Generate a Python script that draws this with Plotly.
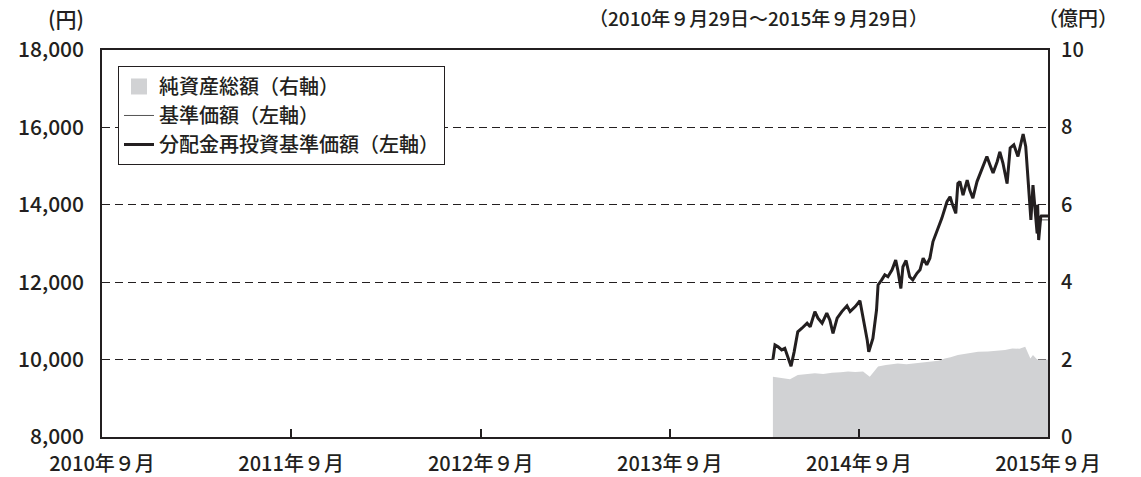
import plotly.graph_objects as go

# ---- data ----
price_dates = [
    "2014-04-16", "2014-04-20", "2014-04-26", "2014-05-03", "2014-05-09", "2014-05-15",
    "2014-05-21", "2014-05-27", "2014-06-03", "2014-06-11", "2014-06-21", "2014-06-27",
    "2014-07-06", "2014-07-12", "2014-07-20", "2014-07-29", "2014-08-04", "2014-08-10",
    "2014-08-18", "2014-08-27", "2014-09-06", "2014-09-12", "2014-09-22", "2014-10-01",
    "2014-10-07", "2014-10-15", "2014-10-18", "2014-10-26", "2014-11-02", "2014-11-05",
    "2014-11-12", "2014-11-18", "2014-11-24", "2014-12-02", "2014-12-09", "2014-12-13",
    "2014-12-19", "2014-12-23", "2014-12-29", "2015-01-05", "2015-01-11", "2015-01-19",
    "2015-01-25", "2015-01-31", "2015-02-07", "2015-02-13", "2015-02-19", "2015-02-27",
    "2015-03-04", "2015-03-08", "2015-03-18", "2015-03-24", "2015-03-28", "2015-04-04",
    "2015-04-08", "2015-04-12", "2015-04-18", "2015-04-26", "2015-05-01", "2015-05-07",
    "2015-05-15", "2015-05-24", "2015-06-03", "2015-06-09", "2015-06-15", "2015-06-23",
    "2015-06-28", "2015-07-04", "2015-07-12", "2015-07-18", "2015-07-25", "2015-08-02",
    "2015-08-08", "2015-08-12", "2015-08-17", "2015-08-21", "2015-08-27", "2015-08-31",
    "2015-09-04", "2015-09-08", "2015-09-09", "2015-09-11", "2015-09-15", "2015-09-16",
    "2015-09-29",
]
nav_reinvest = [
    10000, 10380, 10330, 10250, 10290, 10070,
    9830, 10200, 10720, 10810, 10940, 10850,
    11240, 11070, 10940, 11200, 11020, 10680,
    11070, 11240, 11390, 11240, 11370, 11520,
    11110, 10510, 10200, 10550, 11280, 11930,
    12060, 12190, 12140, 12320, 12570, 12320,
    11840, 12400, 12560, 12140, 12060, 12230,
    12320, 12620, 12450, 12620, 13050, 13310,
    13520, 13650, 14080, 14210, 14030, 13780,
    14550, 14600, 14250, 14640, 14380, 14170,
    14600, 14900, 15250, 15030, 14820, 15120,
    15370, 15080, 14550, 15470, 15550, 15250,
    15600, 15830, 15510, 14730, 13610, 14510,
    13870, 13260, 14000, 13090, 13690, 13710,
    13710,
]
nav_base = [
    10000, 10380, 10330, 10250, 10290, 10070,
    9830, 10200, 10720, 10810, 10940, 10850,
    11240, 11070, 10940, 11200, 11020, 10680,
    11070, 11240, 11390, 11240, 11370, 11520,
    11110, 10510, 10200, 10550, 11280, 11930,
    12060, 12190, 12140, 12320, 12570, 12320,
    11840, 12400, 12560, 12140, 12060, 12230,
    12320, 12620, 12450, 12620, 13050, 13310,
    13520, 13650, 14080, 14210, 14030, 13780,
    14550, 14600, 14250, 14640, 14380, 14170,
    14600, 14900, 15250, 15030, 14820, 15120,
    15370, 15080, 14550, 15470, 15550, 15250,
    15600, 15830, 15510, 14730, 13610, 14510,
    13870, 13260, 14000, 13090, 13600, 13610,
    13610,
]

asset_dates = [
    "2014-04-16", "2014-04-25", "2014-05-09", "2014-05-19", "2014-06-03", "2014-06-20",
    "2014-07-06", "2014-07-22", "2014-08-08", "2014-08-25", "2014-09-08", "2014-09-22",
    "2014-10-07", "2014-10-20", "2014-11-05", "2014-11-20", "2014-12-13", "2014-12-30",
    "2015-01-15", "2015-02-01", "2015-02-17", "2015-03-01", "2015-03-14", "2015-03-25",
    "2015-04-08", "2015-04-25", "2015-05-17", "2015-06-05", "2015-06-25", "2015-07-08",
    "2015-07-22", "2015-08-05", "2015-08-16", "2015-08-26", "2015-08-31", "2015-09-08",
    "2015-09-29",
]
net_assets = [
    1.56, 1.54, 1.52, 1.49, 1.60, 1.62,
    1.65, 1.63, 1.66, 1.67, 1.69, 1.68,
    1.69, 1.56, 1.82, 1.86, 1.90, 1.88,
    1.90, 1.93, 1.95, 1.97, 2.03, 2.06,
    2.12, 2.15, 2.20, 2.21, 2.23, 2.25,
    2.29, 2.28, 2.33, 2.03, 2.12, 2.00,
    2.00,
]

x_tick_vals = ["2010-09-29", "2011-09-29", "2012-09-29", "2013-09-29", "2014-09-29", "2015-09-29"]
x_tick_text = ["2010年９月", "2011年９月", "2012年９月", "2013年９月", "2014年９月", "2015年９月"]
y_tick_vals = [8000, 10000, 12000, 14000, 16000, 18000]
y_tick_text = ["8,000", "10,000", "12,000", "14,000", "16,000", "18,000"]
y2_tick_vals = [0, 2, 4, 6, 8, 10]
y2_tick_text = ["0", "2", "4", "6", "8", "10"]

FONT = "Noto Sans CJK JP"
GRAY = "#d1d2d4"
BLACK = "#231f20"

fig = go.Figure()

fig.add_trace(go.Scatter(
    x=asset_dates, y=net_assets, yaxis="y2", mode="lines",
    line=dict(width=0, color=GRAY), fill="tozeroy", fillcolor=GRAY,
    showlegend=False, hoverinfo="skip",
))
# legend swatch for the area
fig.add_trace(go.Scatter(
    x=[None], y=[None], yaxis="y2", mode="markers", name="純資産総額（右軸）",
    marker=dict(symbol="square", size=16, color=GRAY),
))
fig.add_trace(go.Scatter(
    x=price_dates, y=nav_base, mode="lines", name="基準価額（左軸）",
    line=dict(width=1, color="#555555"),
))
fig.add_trace(go.Scatter(
    x=price_dates, y=nav_reinvest, mode="lines", name="分配金再投資基準価額（左軸）",
    line=dict(width=3, color=BLACK),
))

fig.update_layout(
    width=1141, height=477,
    margin=dict(l=102, r=93, t=50, b=40, autoexpand=False),
    paper_bgcolor="white", plot_bgcolor="white",
    font=dict(family=FONT, size=20, color=BLACK, weight=500),
    xaxis=dict(
        type="date", range=["2010-09-29", "2015-09-29"],
        tickvals=x_tick_vals, ticktext=x_tick_text, automargin=False,
        ticks="inside", ticklen=8, tickwidth=1.5, tickcolor=BLACK,
        showgrid=False, showline=True, mirror=True, linecolor=BLACK, linewidth=1.5,
        tickfont=dict(size=20), ticklabelstandoff=8, zeroline=False,
    ),
    yaxis=dict(
        range=[8000, 18000], tickvals=y_tick_vals, ticktext=y_tick_text,
        showgrid=True, gridcolor=BLACK, griddash="8px,5px", gridwidth=1,
        showline=True, mirror=True, linecolor=BLACK, linewidth=1.5, automargin=False,
        ticks="", tickfont=dict(size=21), ticklabelstandoff=12, zeroline=False,
    ),
    yaxis2=dict(
        range=[0, 10], tickvals=y2_tick_vals, ticktext=y2_tick_text,
        overlaying="y", side="right", showgrid=False, zeroline=False, automargin=False,
        ticks="", tickfont=dict(size=20), ticklabelstandoff=12,
    ),
    legend=dict(
        x=0.0169, y=0.9587, xanchor="left", yanchor="top",
        bordercolor=BLACK, borderwidth=1, bgcolor="white",
        font=dict(size=20), tracegroupgap=0,
    ),
    annotations=[
        dict(text="(円)", xref="paper", yref="paper", x=-0.017, y=1.083,
             xanchor="right", yanchor="middle", showarrow=False, font=dict(size=21)),
        dict(text="（2010年９月29日～2015年９月29日）", xref="paper", yref="paper",
             x=0.875, y=1.083, xanchor="right", yanchor="middle", showarrow=False,
             font=dict(size=19)),
        dict(text="（億円）", xref="paper", yref="paper", x=1.076, y=1.083,
             xanchor="right", yanchor="middle", showarrow=False, font=dict(size=20)),
    ],
)

fig.write_html(
    "out.html",
    config={"displayModeBar": False},
    post_script="document.body.style.margin='0';document.body.style.overflow='hidden';",
)
